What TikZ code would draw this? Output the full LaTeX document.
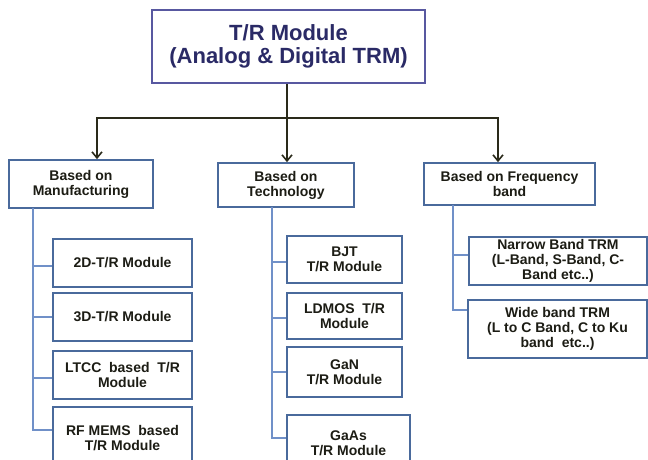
\documentclass[tikz,border=0pt]{standalone}
\usepackage{fontspec}
\setmainfont{Liberation Sans}
\usetikzlibrary{arrows.meta,calc}
\definecolor{boxc}{HTML}{4A6A9C}
\definecolor{topc}{HTML}{5858A0}
\definecolor{linec}{HTML}{7090C8}
\definecolor{arrc}{HTML}{2A2A1A}
\definecolor{titlec}{HTML}{2A2A66}
\definecolor{txtc}{HTML}{1C1C14}
\begin{document}
\begin{tikzpicture}[x=1pt,y=-1pt,
  box/.style={draw=boxc, line width=1.8pt, fill=white, align=center, inner sep=0pt,
    font=\bfseries\fontsize{14}{15}\selectfont, text=txtc},
  topbox/.style={draw=topc, line width=1.8pt, fill=white, align=center, inner sep=0pt,
    font=\bfseries\fontsize{22}{23.5}\selectfont, text=titlec},
  conn/.style={draw=linec, line width=1.8pt},
  arr/.style={draw=arrc, line width=1.8pt, -{Straight Barb[length=6pt,width=10pt,line width=1.6pt]}}]
\useasboundingbox (0,0) rectangle (648,459);
\clip (0,0) rectangle (648,459);
\fill[white] (0,0) rectangle (648,459);

% top
\node[topbox, minimum width=273pt, minimum height=73pt] (top) at (288.5,46.5)
  {T/R Module\\(Analog \& Digital TRM)};

% categories
\node[box, minimum width=144pt, minimum height=48pt] (m) at (81,184) {Based on\\Manufacturing};
\node[box, minimum width=136pt, minimum height=44pt] (t) at (286,185) {Based on\\Technology};
\node[box, minimum width=171pt, minimum height=42pt] (f) at (509.5,184) {Based on Frequency\\band};

% main arrows
\coordinate (j) at (287,118);
\draw[arrc, line width=1.8pt] (top.south -| j) -- (j);
\draw[arr] (j) -| ([xshift=16pt]m.north);
\draw[arr] (j) -- (j |- t.north);
\draw[arr] (j) -| ([xshift=-11.5pt]f.north);

% manufacturing children
\node[box, minimum width=139pt, minimum height=48pt] (m1) at (122.5,263) {2D-T/R Module};
\node[box, minimum width=139pt, minimum height=48pt] (m2) at (122.5,317) {3D-T/R Module};
\node[box, minimum width=139pt, minimum height=48pt] (m3) at (122.5,375) {LTCC\ \ based\ \ T/R\\Module};
\node[box, minimum width=139pt, minimum height=62pt] (m4) at (122.5,438) {RF MEMS\ \ based\\T/R Module};
\coordinate (ml) at (33,208);
\draw[conn] (ml) |- ([yshift=-3pt]m1.west);
\draw[conn] (ml) |- (m2.west);
\draw[conn] (ml) |- ([yshift=-3pt]m3.west);
\draw[conn] (ml) |- ([yshift=8pt]m4.west);

% technology children
\node[box, minimum width=115pt, minimum height=47pt] (t1) at (344.5,259.5) {BJT\\T/R Module};
\node[box, minimum width=115pt, minimum height=46pt] (t2) at (344.5,316) {LDMOS\ \ T/R\\Module};
\node[box, minimum width=115pt, minimum height=50pt] (t3) at (344.5,372) {GaN\\T/R Module};
\node[box, minimum width=123pt, minimum height=56pt] (t4) at (348.5,443) {GaAs\\T/R Module};
\coordinate (tl) at (272,207);
\draw[conn] (tl) |- ([yshift=-2.5pt]t1.west);
\draw[conn] (tl) |- ([yshift=-2pt]t2.west);
\draw[conn] (tl) |- (t3.west);
\draw[conn] (tl) |- ([yshift=5pt]t4.west);

% frequency children
\node[box, minimum width=178pt, minimum height=48pt] (f1) at (558,261) {Narrow Band TRM\\(L-Band,\ S-Band,\ C-\\Band etc..)};
\node[box, minimum width=179pt, minimum height=58pt] (f2) at (557.5,329) {Wide band TRM\\(L to C Band, C to Ku\\band\ \ etc..)};
\coordinate (fl) at (453,205);
\draw[conn] (fl) |- ([yshift=6pt]f1.west);
\draw[conn] (fl) |- ([yshift=19pt]f2.west);
\end{tikzpicture}
\end{document}
